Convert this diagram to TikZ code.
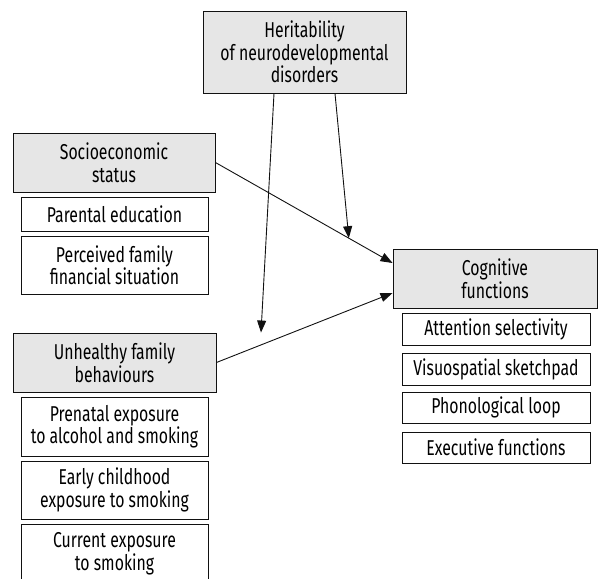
\documentclass[tikz,border=0pt]{standalone}
\usepackage{fontspec}
\setmainfont[FakeStretch=0.735]{Fira Sans}
\usetikzlibrary{arrows.meta,calc}
\definecolor{boxgray}{HTML}{E6E6E6}
\definecolor{edge}{HTML}{111111}
\begin{document}
\begin{tikzpicture}[x=1pt,y=1pt,
  box/.style={draw=edge,line width=0.9pt,inner sep=1pt,align=center,
    font=\fontsize{21.5}{22.5}\selectfont,text=black},
  mainbox/.style={box,fill=boxgray},
  subbox/.style={box,fill=white},
  conn/.style={draw=edge,line width=0.9pt,-{Triangle[length=12pt,width=9pt]}}]
\useasboundingbox (0,0) rectangle (598,-579);
\clip (0,0) rectangle (598,-579);
% main boxes
\node[mainbox,minimum width=203pt,minimum height=82pt] (her) at (304.5,-52)
  {Heritability\\of neurodevelopmental\\disorders};
\node[mainbox,minimum width=202pt,minimum height=59pt] (ses) at (114,-162.5)
  {Socioeconomic\\status};
\node[subbox,minimum width=187pt,minimum height=34pt] (par) at (114.5,-214)
  {Parental education};
\node[subbox,minimum width=187pt,minimum height=58pt] (per) at (114.5,-265)
  {Perceived family\\financial situation};
\node[mainbox,minimum width=203pt,minimum height=59pt] (unh) at (114.5,-362.5)
  {Unhealthy family\\behaviours};
\node[subbox,minimum width=187pt,minimum height=59pt] (pre) at (114.5,-426.5)
  {Prenatal exposure\\to alcohol and smoking};
\node[subbox,minimum width=187pt,minimum height=58pt] (ear) at (114.5,-490)
  {Early childhood\\exposure to smoking};
\node[subbox,minimum width=187pt,minimum height=59pt] (cur) at (114.5,-553.5)
  {Current exposure\\to smoking};
\node[mainbox,minimum width=204pt,minimum height=59pt] (cog) at (495,-278.5)
  {Cognitive\\functions};
\node[subbox,minimum width=188pt,minimum height=32pt] (att) at (496,-329)
  {Attention selectivity};
\node[subbox,minimum width=188pt,minimum height=32pt] (vis) at (496,-369)
  {Visuospatial sketchpad};
\node[subbox,minimum width=188pt,minimum height=31pt] (pho) at (496,-407.5)
  {Phonological loop};
\node[subbox,minimum width=188pt,minimum height=31pt] (exe) at (496,-447.5)
  {Executive functions};
% connectors
\draw[conn] (ses.east) -- ([yshift=15.5pt]cog.west)
  coordinate[pos=0.753] (mod);
\draw[conn] (unh.east) -- ([yshift=-14.5pt]cog.west);
\draw[conn] ([xshift=-30.5pt]her.south) -- ([xshift=146.5pt]unh.north);
\draw[conn] ([xshift=30.5pt]her.south) -- (mod);
\end{tikzpicture}
\end{document}
